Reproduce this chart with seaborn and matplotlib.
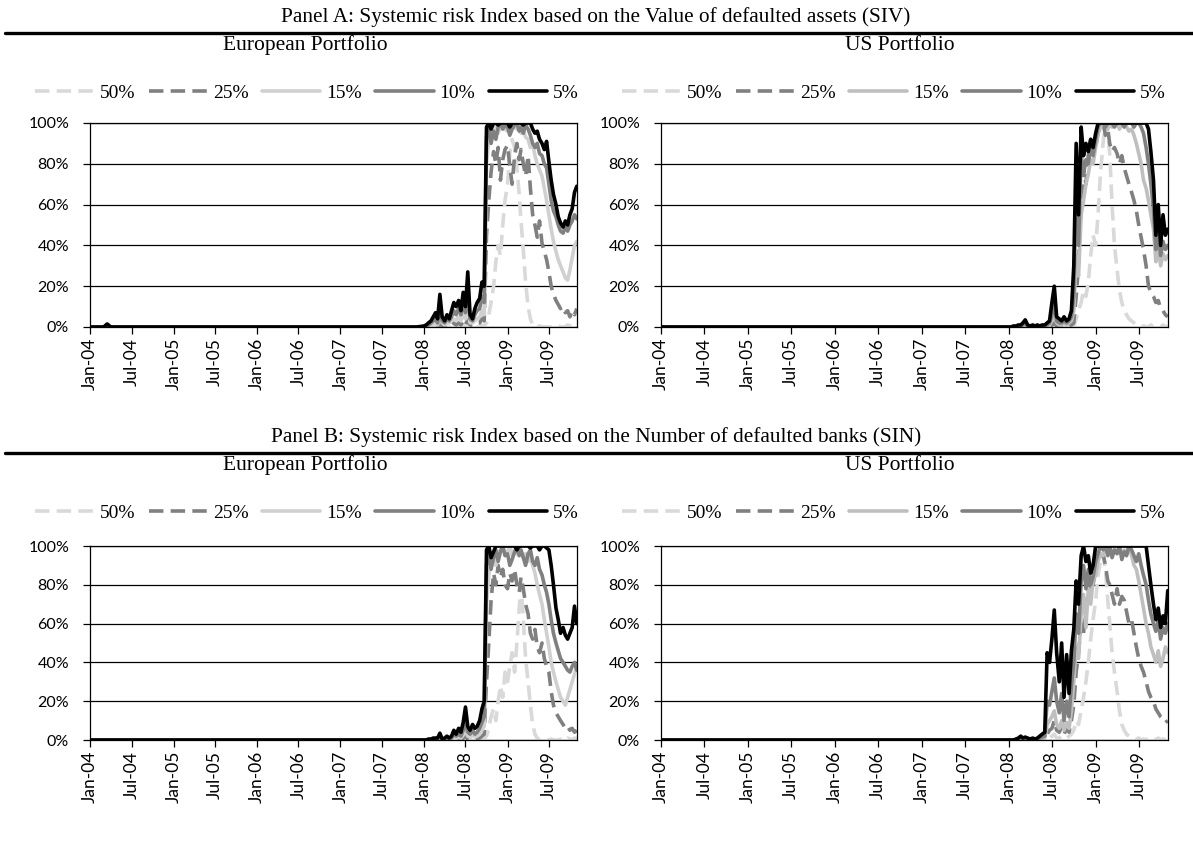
import pandas as pd
import matplotlib
matplotlib.use("Agg")
import matplotlib.pyplot as plt
from matplotlib.lines import Line2D
from matplotlib.ticker import FuncFormatter
import seaborn as sns

sns.set_theme(style="white")
plt.rcParams["font.family"] = ["Lato", "DejaVu Sans"]
plt.rcParams["text.color"] = "black"
plt.rcParams["axes.edgecolor"] = "black"
plt.rcParams["xtick.color"] = "black"
plt.rcParams["ytick.color"] = "black"

# ---------------------------------------------------------------- data
thresholds = ["50%", "25%", "15%", "10%", "5%"]

# quiet period observations, then three readings per month (1st, 11th, 21st)
early_dates = ["2004-01-01", "2004-03-01", "2004-03-16", "2004-04-01", "2007-12-01"]
grid_months = pd.date_range("2008-01-01", "2009-10-01", freq="MS")
grid_dates = [m + pd.Timedelta(days=d) for m in grid_months for d in (0, 10, 20)]
dates = pd.to_datetime(early_dates).append(pd.DatetimeIndex(grid_dates)).append(
    pd.to_datetime(["2009-10-31"]))

# Panel A - European portfolio (SIV)
eu_a_50 = [0, 0, 0, 0, 0,
           0, 0, 0,  0, 0, 0,  0, 0.5, 0,
           0, 0, 0,  0, 0.5, 0,  0, 0, 1,
           0, 1, 0,  0, 0, 0,  0, 1, 0.5,
           2, 6, 12,  20, 32, 40,  35, 50, 62,
           70, 85, 92,  88, 78, 65,  52, 38, 22,
           10, 4, 1,  0, 0, 0.5,  0, 0, 0,
           0, 0, 0,  0, 0.5, 0,  0, 0, 1,
           0.5, 1, 0,  0.5]
eu_a_25 = [0, 0, 0, 0, 0,
           0, 0, 0,  0, 0, 0.5,  0, 2, 0.5,
           0, 1, 0.5,  1, 2, 1,  2, 1, 3,
           1, 4, 1,  1, 1, 2,  2, 4, 3,
           45, 62, 76,  86, 80, 88,  72, 82, 87,
           89, 79, 70,  84, 90, 82,  87, 80, 74,
           84, 68, 55,  50, 44, 52,  41, 37, 33,
           27, 20, 16,  13, 11, 9,  10, 7, 8,
           5, 8, 6,  9]
eu_a_15 = [0, 0, 0, 0, 0,
           0, 0, 0.5,  1, 1, 2,  1, 5, 2,
           1, 2, 2,  3, 4, 3,  5, 3, 6,
           4, 9, 2,  2, 3, 4,  5, 8, 6,
           80, 92, 95,  97, 99, 95,  98, 100, 97,
           96, 99, 100,  98, 97, 100,  95, 97, 93,
           92, 88, 90,  84, 80, 77,  74, 68, 62,
           55, 48, 42,  37, 33, 30,  27, 24, 23,
           28, 34, 40,  42]
eu_a_10 = [0, 0, 0.5, 0, 0,
           0, 0.5, 1,  2, 3, 4,  2, 10, 3,
           2, 4, 3,  5, 8, 6,  9, 6, 12,
           7, 18, 4,  3, 6, 8,  9, 15, 12,
           93, 98, 90,  96, 92, 98,  100, 97, 99,
           98, 94, 97,  99, 100, 96,  98, 95, 99,
           97, 94, 90,  88, 90, 85,  84, 80, 78,
           70, 62, 57,  54, 50, 47,  46, 49, 47,
           50, 52, 55,  53]
eu_a_5 = [0, 0, 1.5, 0, 0,
          0.5, 1, 2,  3, 5, 7,  4, 16, 5,
          3, 6, 4,  8, 12, 10,  13, 8, 17,
          10, 27, 6,  4, 9, 12,  14, 22, 20,
          98, 100, 97,  100, 100, 99,  100, 100, 100,
          100, 98, 100,  100, 100, 100,  100, 99, 100,
          100, 100, 97,  95, 96, 92,  90, 87, 91,
          81, 72, 65,  60, 54, 51,  49, 52, 50,
          55, 58, 66,  69]

# Panel A - US portfolio (SIV)
us_a_50 = [0, 0, 0, 0, 0,
           0, 0, 0,  0, 0, 0,  0, 0, 0,
           0, 0, 0,  0, 0, 0,  0, 0, 0,
           0, 0.5, 0,  0, 0, 0,  0, 0, 0.5,
           0, 4, 8,  12, 18, 15,  22, 35, 45,
           40, 55, 75,  90, 100, 95,  85, 60, 40,
           28, 18, 12,  8, 6, 4,  3, 2, 1,
           1, 0, 0.5,  0, 0, 1,  0, 0.5, 0,
           0, 1, 0,  0.5]
us_a_25 = [0, 0, 0, 0, 0,
           0, 0, 0,  0, 0, 0,  0, 0.5, 0,
           0, 0, 0,  0, 0, 0,  0, 0, 0.5,
           1, 2, 0.5,  0.5, 0.5, 1,  0.5, 1, 1,
           2, 15, 30,  60, 78, 70,  84, 92, 88,
           88, 95, 98,  100, 94, 97,  90, 86, 88,
           85, 80, 84,  78, 74, 70,  66, 62, 57,
           50, 44, 38,  30, 20, 17,  15, 12, 13,
           9, 8, 6,  5]
us_a_15 = [0, 0, 0, 0, 0,
           0, 0, 0,  0, 0, 0,  0.5, 1, 0,
           0, 0, 0,  0, 0, 0,  0, 0.5, 1,
           3, 6, 2,  1, 1, 2,  1, 2, 3,
           8, 35, 25,  55, 62, 70,  75, 82, 80,
           88, 95, 98,  100, 100, 97,  100, 98, 100,
           100, 97, 100,  100, 98, 96,  97, 94, 90,
           85, 80, 72,  68, 62, 55,  48, 32, 40,
           30, 36, 33,  35]
us_a_10 = [0, 0, 0, 0, 0,
           0, 0, 0,  0, 0.5, 0.5,  1, 2, 0.5,
           0, 0.5, 0,  0.5, 0, 0.5,  0.5, 1, 2,
           6, 12, 3,  2, 2, 3,  2, 3, 5,
           15, 70, 40,  85, 75, 82,  80, 88, 84,
           92, 98, 100,  100, 98, 100,  100, 100, 98,
           100, 100, 100,  98, 100, 100,  100, 98, 100,
           100, 98, 95,  88, 80, 70,  58, 38, 48,
           35, 42, 38,  40]
us_a_5 = [0, 0, 0, 0, 0,
          0, 0, 0.5,  0.5, 1, 1,  2, 3.5, 1,
          0.5, 1, 0.5,  1, 0.5, 1,  1, 2, 3,
          12, 20, 5,  4, 3, 5,  3, 4, 8,
          30, 90, 55,  98, 84, 90,  86, 92, 88,
          95, 100, 100,  100, 100, 100,  100, 100, 100,
          100, 100, 100,  100, 100, 100,  100, 100, 100,
          100, 100, 100,  100, 97, 86,  72, 45, 60,
          40, 55, 45,  48]

# Panel B - European portfolio (SIN)
eu_b_50 = [0, 0, 0, 0, 0,
           0, 0, 0,  0, 0, 0,  0, 0, 0,
           0, 0, 0,  0, 0, 0,  0, 0, 0,
           0.5, 0, 0,  0, 0, 0,  0, 0.5, 0.5,
           2, 6, 12,  16, 10, 20,  28, 22, 35,
           30, 38, 45,  35, 50, 68,  80, 62, 42,
           30, 18, 8,  3, 1, 0,  0.5, 0, 0,
           0, 0.5, 0,  0, 0, 0.5,  0, 0, 1,
           0.5, 0, 1,  0.5]
eu_b_25 = [0, 0, 0, 0, 0,
           0, 0, 0,  0, 0, 0,  0, 0.5, 0,
           0, 0, 0,  0, 0.5, 0,  0.5, 0, 1,
           2, 0.5, 0.5,  1, 0.5, 1,  1, 2, 3,
           30, 50, 72,  86, 80, 90,  84, 88, 80,
           78, 86, 82,  88, 80, 76,  84, 78, 70,
           65, 55, 52,  57, 48, 45,  50, 42, 38,
           35, 25, 18,  14, 12, 10,  8, 6, 7,
           5, 6, 4,  5]
eu_b_15 = [0, 0, 0, 0, 0,
           0, 0, 0,  0, 0, 0,  0, 1, 0,
           0, 0.5, 0,  0.5, 1.5, 1,  1.5, 1, 2.5,
           5, 2, 1.5,  2.5, 1.5, 2,  3, 5, 7,
           70, 85, 92,  95, 90, 97,  98, 100, 96,
           97, 100, 95,  98, 96, 100,  97, 94, 96,
           92, 95, 90,  86, 80, 75,  70, 62, 55,
           48, 40, 35,  30, 26, 22,  20, 18, 22,
           26, 30, 34,  38]
eu_b_10 = [0, 0, 0, 0, 0,
           0, 0, 0,  0, 0.5, 0.5,  0.5, 2, 0,
           0.5, 1, 0.5,  1, 3, 2,  3, 2, 5,
           10, 4, 3,  5, 3, 4,  6, 9, 12,
           90, 96, 88,  94, 98, 92,  97, 100, 95,
           96, 90, 93,  97, 99, 95,  98, 94, 90,
           96, 98, 92,  90, 94, 88,  85, 80, 76,
           70, 62, 55,  50, 46, 42,  40, 38, 36,
           35, 38, 40,  36]
eu_b_5 = [0, 0, 0, 0, 0,
          0, 0, 0.5,  0.5, 1, 1,  1, 3.5, 0.5,
          1, 2, 1,  2, 5, 3,  6, 4, 9,
          17, 7, 5,  8, 6, 7,  10, 16, 20,
          98, 100, 94,  97, 100, 100,  100, 100, 100,
          100, 100, 100,  100, 98, 100,  100, 100, 100,
          100, 99, 100,  100, 100, 98,  100, 100, 99,
          98, 90, 80,  68, 62, 55,  58, 54, 52,
          55, 58, 69,  60]

# Panel B - US portfolio (SIN)
us_b_50 = [0, 0, 0, 0, 0,
           0, 0, 0,  0, 0, 0,  0, 0, 0,
           0, 0, 0,  0, 0, 0,  0, 0.5, 1,
           2, 3, 1,  1, 2, 1,  1, 2, 3,
           5, 10, 8,  15, 22, 30,  40, 52, 62,
           72, 85, 92,  96, 88, 72,  60, 45, 35,
           25, 15, 8,  5, 3, 2,  1, 1, 0.5,
           1, 0, 0.5,  0, 1, 0,  0.5, 0, 1,
           0, 0.5, 0,  1]
us_b_25 = [0, 0, 0, 0, 0,
           0, 0, 0,  0, 0, 0,  0, 0, 0,
           0, 0, 0,  0, 0, 0.5,  0.5, 3, 5,
           6, 10, 5,  4, 7, 3,  6, 4, 10,
           18, 35, 45,  60, 55, 70,  75, 85, 80,
           88, 95, 92,  96, 90, 82,  80, 75, 70,
           78, 70, 74,  72, 66, 60,  62, 55, 48,
           42, 38, 35,  30, 25, 22,  20, 16, 14,
           12, 11, 9,  10]
us_b_15 = [0, 0, 0, 0, 0,
           0, 0, 0,  0, 0, 0.5,  0, 0.5, 0,
           0, 0, 0,  0, 0.5, 1,  1, 8, 10,
           12, 15, 8,  6, 10, 5,  9, 6, 15,
           30, 48, 42,  65, 75, 58,  78, 70, 82,
           85, 92, 96,  95, 100, 97,  100, 96, 98,
           97, 100, 95,  98, 96, 100,  95, 90, 88,
           82, 75, 68,  60, 55, 48,  44, 40, 46,
           38, 42, 48,  45]
us_b_10 = [0, 0, 0, 0, 0,
           0, 0, 0,  0, 0.5, 1,  0.5, 1, 0.5,
           0, 0.5, 0,  0.5, 1, 1.5,  2, 20, 18,
           25, 32, 20,  14, 24, 10,  20, 12, 28,
           40, 65, 55,  82, 90, 78,  88, 80, 84,
           92, 96, 100,  98, 100, 95,  100, 94, 98,
           96, 100, 93,  97, 95, 100,  98, 95, 92,
           96, 90, 85,  80, 72, 65,  60, 56, 62,
           52, 58, 55,  60]
us_b_5 = [0, 0, 0, 0, 0,
          0, 0, 0,  0.5, 1, 2,  1, 1.5, 1,
          0.5, 1, 0.5,  1, 2, 3,  4, 45, 40,
          52, 67, 45,  30, 50, 22,  44, 24, 46,
          57, 82, 70,  95, 100, 92,  95, 86, 90,
          100, 100, 100,  100, 100, 100,  100, 100, 100,
          100, 100, 100,  100, 100, 100,  100, 100, 100,
          100, 100, 100,  100, 90, 80,  70, 62, 68,
          58, 64, 60,  77]

panel_titles = [
    "Panel A: Systemic risk Index based on the Value of defaulted assets (SIV)",
    "Panel B: Systemic risk Index based on the Number of defaulted banks (SIN)",
]
portfolio_names = ["European Portfolio", "US Portfolio"]

# ---------------------------------------------------------------- styles
W, H = 1193, 856
LW = 2.6
DASH = (0, (4, 2))
colors_eu = ["#d9d9d9", "#808080", "#d0d0d0", "#808080", "#000000"]
colors_us = ["#d9d9d9", "#808080", "#bfbfbf", "#808080", "#000000"]
styles = [DASH, DASH, "-", "-", "-"]

fig = plt.figure(figsize=(W / 100, H / 100), dpi=100)


def fx(px):
    return px / W


def fy(py):
    return 1 - py / H


def draw_panel(rect, series, colors, legend_center):
    left, top, right, bottom = rect
    ax = fig.add_axes([fx(left), fy(bottom), fx(right - left), fy(top) - fy(bottom)])
    for name, vals, col, ls in zip(thresholds, series, colors, styles):
        df = pd.DataFrame({"date": dates, "value": vals})
        sns.lineplot(data=df, x="date", y="value", ax=ax, color=col,
                     linewidth=LW, linestyle=ls, legend=False, errorbar=None)
    ax.set_xlim(pd.Timestamp("2004-01-01"), pd.Timestamp("2009-11-01"))
    ax.set_ylim(0, 100)
    ax.set_yticks(range(0, 101, 20))
    ax.yaxis.set_major_formatter(FuncFormatter(lambda v, p: f"{v:.0f}%"))
    ticks = pd.date_range("2004-01-01", "2009-07-01", freq="6MS")
    ax.set_xticks(ticks)
    ax.set_xticklabels([t.strftime("%b-%y") for t in ticks], rotation=90)
    ax.set_xlabel("")
    ax.set_ylabel("")
    ax.grid(axis="y", color="black", linewidth=0.9)
    ax.grid(axis="x", visible=False)
    ax.set_axisbelow(True)
    for sp in ax.spines.values():
        sp.set_visible(True)
        sp.set_color("black")
        sp.set_linewidth(0.9)
    ax.tick_params(axis="both", direction="out", length=5, width=0.9,
                   color="black", labelcolor="black")
    ax.tick_params(axis="y", pad=10, left=True, labelsize=11.5)
    ax.tick_params(axis="x", pad=3, bottom=True, labelsize=12.5)
    handles = [Line2D([], [], color=c, lw=LW, linestyle=s) for c, s in zip(colors, styles)]
    ax.legend(handles, thresholds, ncol=5, loc="center",
              bbox_to_anchor=(fx(legend_center[0]), fy(legend_center[1])),
              bbox_transform=fig.transFigure, frameon=False,
              prop={"family": "Liberation Serif", "size": 14},
              handlelength=3.0, handletextpad=0.3, columnspacing=0.7,
              borderpad=0, borderaxespad=0)
    return ax


panels = [
    (0, [eu_a_50, eu_a_25, eu_a_15, eu_a_10, eu_a_5],
        [us_a_50, us_a_25, us_a_15, us_a_10, us_a_5]),
    (420, [eu_b_50, eu_b_25, eu_b_15, eu_b_10, eu_b_5],
          [us_b_50, us_b_25, us_b_15, us_b_10, us_b_5]),
]
axes_heights = [(123, 327), (546, 740)]

for (offset, eu_series, us_series), title, (top, bottom) in zip(panels, panel_titles, axes_heights):
    fig.text(fx(596), fy(17 + offset), title, ha="center", va="center",
             family="Liberation Serif", fontsize=15.3, color="black")
    fig.add_artist(Line2D([fx(5), 1], [fy(33 + offset)] * 2, color="black",
                          lw=2.4, transform=fig.transFigure))
    fig.text(fx(305), fy(45 + offset), portfolio_names[0], ha="center", va="center",
             family="Liberation Serif", fontsize=15.5, color="black")
    fig.text(fx(900), fy(45 + offset), portfolio_names[1], ha="center", va="center",
             family="Liberation Serif", fontsize=15.5, color="black")
    draw_panel((90, top, 577, bottom), eu_series, colors_eu, (307, 93 + offset))
    draw_panel((661, top, 1168, bottom), us_series, colors_us, (894, 93 + offset))

fig.savefig("out.png", dpi=100, facecolor="white")
